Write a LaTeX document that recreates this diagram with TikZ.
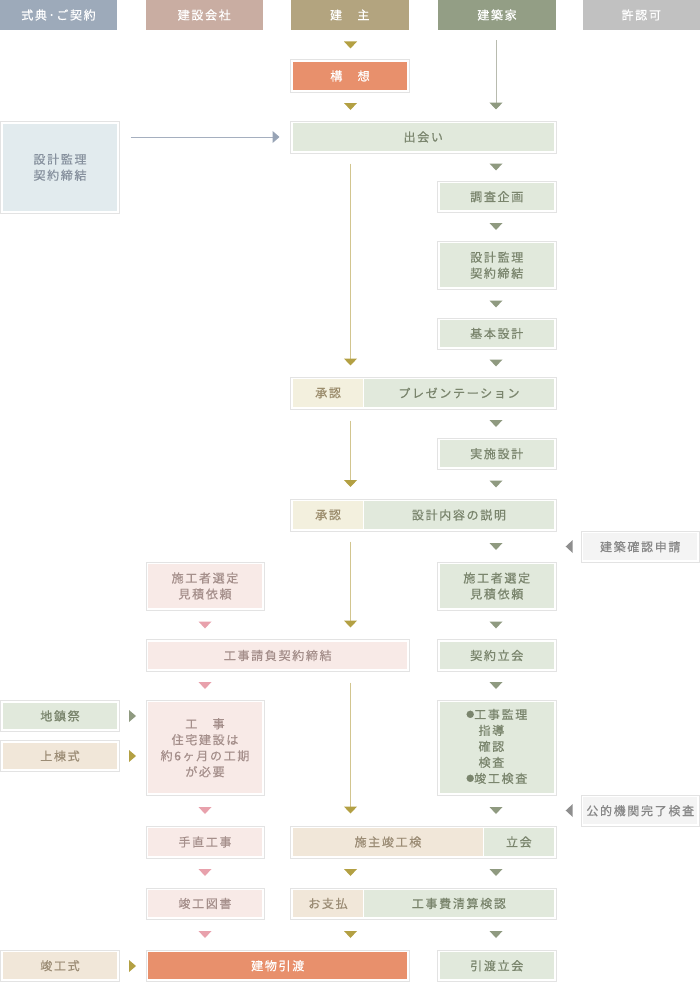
\documentclass[tikz,border=0pt]{standalone}
\usepackage{fontspec}
\setmainfont{Noto Sans CJK JP}
\newfontfamily\jp{Noto Sans CJK JP}[LetterSpace=14,FakeBold=0.6]
\usetikzlibrary{arrows.meta}
\definecolor{bordc}{HTML}{E3E3E3}
\definecolor{hzero}{HTML}{9DAABA}
\definecolor{hone}{HTML}{C9ADA2}
\definecolor{htwo}{HTML}{B3A47F}
\definecolor{hthree}{HTML}{939E85}
\definecolor{hfour}{HTML}{C1C1C1}
\definecolor{orangef}{HTML}{E8906C}
\definecolor{greenf}{HTML}{E1E9DC}
\definecolor{greent}{HTML}{7A856D}
\definecolor{creamf}{HTML}{F3F0DE}
\definecolor{creamt}{HTML}{9B8C6C}
\definecolor{beigef}{HTML}{F1E7D9}
\definecolor{beiget}{HTML}{9B8C75}
\definecolor{pinkf}{HTML}{F8EAE7}
\definecolor{pinkt}{HTML}{A58F8B}
\definecolor{bluef}{HTML}{E2EBEE}
\definecolor{bluet}{HTML}{87919E}
\definecolor{greyf}{HTML}{F4F4F4}
\definecolor{greyt}{HTML}{878787}
\definecolor{olivetri}{HTML}{B3A043}
\definecolor{olivel}{HTML}{D2C58F}
\definecolor{greentri}{HTML}{8F9A80}
\definecolor{greenl}{HTML}{B8BBAF}
\definecolor{pinktri}{HTML}{E8A1AC}
\definecolor{bluetri}{HTML}{97A3B5}
\definecolor{bluel}{HTML}{A5AFBF}
\definecolor{greytri}{HTML}{8E8E8E}
\tikzset{
  jpfont/.style={font=\jp\fontsize{12}{16}\selectfont},
  head/.style={fill=#1, text=white, inner sep=0pt, jpfont},
  box/.style 2 args={draw=bordc, line width=1pt, fill=white, inner sep=0pt, text=#2, align=center, jpfont,
    path picture={\fill[#1] ([shift={(2.3pt,-2.3pt)}]path picture bounding box.north west) rectangle ([shift={(-2.3pt,2.3pt)}]path picture bounding box.south east);}},
  seg/.style 2 args={fill=#1, text=#2, inner sep=0pt, jpfont},
  oline/.style={draw=olivel, line width=1pt, -{Triangle[width=13pt,length=7pt,color=olivetri]}},
  gline/.style={draw=greenl, line width=1pt, -{Triangle[width=13pt,length=7pt,color=greentri]}},
  bline/.style={draw=bluel, line width=1pt, -{Triangle[width=12pt,length=7pt,color=bluetri]}},
}
\newcommand{\flowbox}[8]{\node[box={#6}{#7}, minimum width=#4pt-#2pt, minimum height=#5pt-#3pt] (#1) at ({(#2+#4)/2},{(#3+#5)/2}) {#8};}
\newcommand{\segbox}[8]{\node[seg={#6}{#7}, minimum width=#4pt-#2pt, minimum height=#5pt-#3pt] (#1) at ({(#2+#4)/2},{(#3+#5)/2}) {#8};}
\newcommand{\headbox}[5]{\node[head=#4, minimum width=#3pt-#2pt, minimum height=30pt] (#1) at ({(#2+#3)/2},15) {#5};}
\newcommand{\dtri}[3]{\fill[#3] ({#1-6.5},{#2-3.5}) -- ({#1+6.5},{#2-3.5}) -- (#1,{#2+3.5}) -- cycle;}
\newcommand{\rtri}[3]{\fill[#3] ({#1-3.5},{#2-6}) -- ({#1+3.5},#2) -- ({#1-3.5},{#2+6}) -- cycle;}
\newcommand{\ltri}[3]{\fill[#3] ({#1+3.5},{#2-6.5}) -- ({#1-3.5},#2) -- ({#1+3.5},{#2+6.5}) -- cycle;}
\begin{document}
\begin{tikzpicture}[x=1pt,y=-1pt]
\useasboundingbox (0,0) rectangle (700,982);
% headers
\headbox{h0}{0}{117}{hzero}{式典･ご契約}
\headbox{h1}{145.5}{263}{hone}{建設会社}
\headbox{h2}{291}{408.5}{htwo}{建　主}
\headbox{h3}{438}{556}{hthree}{建築家}
\headbox{h4}{582.5}{700}{hfour}{許認可}
\coordinate (X1) at (205,0);
\coordinate (X2) at (350.5,0);
\coordinate (X3) at (496,0);
% boxes
\flowbox{kousou}{290.5}{60}{409.5}{92}{orangef}{white}{構　想}
\flowbox{deai}{290.5}{121}{556}{153}{greenf}{greent}{出会い}
\flowbox{sekkei0}{0.5}{121.5}{119.5}{213}{bluef}{bluet}{設計監理\\契約締結}
\flowbox{chousa}{437.5}{181}{556}{212.5}{greenf}{greent}{調査企画}
\flowbox{sekkei3}{437.5}{241}{556}{289.5}{greenf}{greent}{設計監理\\契約締結}
\flowbox{kihon}{437.5}{318}{556}{349}{greenf}{greent}{基本設計}
\flowbox{row1}{290.5}{377}{556}{409}{white}{white}{}
\segbox{row1a}{292.8}{379.3}{363.4}{406.7}{creamf}{creamt}{承認}
\segbox{row1b}{364.2}{379.3}{553.7}{406.7}{greenf}{greent}{プレゼンテーション}
\flowbox{jisshi}{437.5}{438}{556}{469.5}{greenf}{greent}{実施設計}
\flowbox{row2}{290.5}{499}{556}{531}{white}{white}{}
\segbox{row2a}{292.8}{501.3}{363.4}{528.7}{creamf}{creamt}{承認}
\segbox{row2b}{364.2}{501.3}{553.7}{528.7}{greenf}{greent}{設計内容の説明}
\flowbox{kakunin}{581}{531}{699.5}{562.5}{greyf}{greyt}{建築確認申請}
\flowbox{sentei1}{146}{562}{264}{610}{pinkf}{pinkt}{施工者選定\\見積依頼}
\flowbox{sentei3}{437.5}{562}{556}{610}{greenf}{greent}{施工者選定\\見積依頼}
\flowbox{ukeoi}{146}{639.5}{409.5}{671.5}{pinkf}{pinkt}{工事請負契約締結}
\flowbox{tachiai}{437.5}{639.5}{556}{671.5}{greenf}{greent}{契約立会}
\flowbox{jichin}{0.5}{700.5}{119.5}{731.5}{greenf}{greent}{地鎮祭}
\flowbox{joto}{0.5}{740.5}{119.5}{771.5}{beigef}{beiget}{上棟式}
\flowbox{kouji}{146}{700}{264}{795.5}{pinkf}{pinkt}{工　事\\住宅建設は\\約6ヶ月の工期\\が必要}
\flowbox{kanri}{437.5}{700}{556}{795.5}{greenf}{greent}{\begin{tabular}{@{}l@{}}\raisebox{1.6pt}{\fontsize{8}{16}\selectfont ●}工事監理\\\hspace{12.3pt}指導\\\hspace{12.3pt}確認\\\hspace{12.3pt}検査\\\raisebox{1.6pt}{\fontsize{8}{16}\selectfont ●}竣工検査\end{tabular}}
\flowbox{kouteki}{581}{795}{699.5}{826.5}{greyf}{greyt}{公的機関完了検査}
\flowbox{tenao}{146}{826}{264}{858}{pinkf}{pinkt}{手直工事}
\flowbox{row3}{290.5}{826}{556}{858}{white}{white}{}
\segbox{row3a}{292.8}{828.3}{483.1}{855.7}{beigef}{beiget}{施主竣工検}
\segbox{row3b}{484}{828.3}{553.7}{855.7}{greenf}{greent}{立会}
\flowbox{zumen}{146}{888}{264}{919}{pinkf}{pinkt}{竣工図書}
\flowbox{row4}{290.5}{888}{556}{919}{white}{white}{}
\segbox{row4a}{292.8}{890.3}{363.1}{916.7}{beigef}{beiget}{お支払}
\segbox{row4b}{364}{890.3}{553.7}{916.7}{greenf}{greent}{工事費清算検認}
\flowbox{shunkoushiki}{0.5}{950}{119.5}{981.5}{beigef}{beiget}{竣工式}
\flowbox{hikiwatashi}{146}{950}{409.5}{981.5}{orangef}{white}{建物引渡}
\flowbox{hwtachiai}{437.5}{950}{556}{981.5}{greenf}{greent}{引渡立会}
% connector lines
\draw[gline] ([yshift=-10pt]h3.south -| X3) -- ([yshift=11pt]deai.north -| X3);
\draw[bline] ([xshift=10.5pt]sekkei0.east |- deai.west) -- ([xshift=-10.5pt]deai.west);
\draw[oline] ([yshift=-10pt]deai.south -| X2) -- ([yshift=11pt]row1.north -| X2);
\draw[oline] ([yshift=-11pt]row1.south -| X2) -- ([yshift=11.5pt]row2.north -| X2);
\draw[oline] ([yshift=-10pt]row2.south -| X2) -- ([yshift=11.5pt]ukeoi.north -| X2);
\draw[oline] ([yshift=-10.5pt]ukeoi.south -| X2) -- ([yshift=12pt]row3.north -| X2);
% standalone arrowheads
\dtri{350.5}{45}{olivetri}
\dtri{350.5}{106.5}{olivetri}
\dtri{350.5}{872.5}{olivetri}
\dtri{350.5}{934.5}{olivetri}
\foreach \yy in {167,226.5,304,363,423.5,484,546.5,625,685.5,810.5,872.5,934.5} {\dtri{496}{\yy}{greentri}}
\foreach \yy in {625,685.5,810.5,872.5,934.5} {\dtri{205}{\yy}{pinktri}}
\rtri{132.5}{716}{greentri}
\rtri{132.5}{756}{olivetri}
\rtri{132.5}{966}{olivetri}
\ltri{569.2}{546.5}{greytri}
\ltri{569.2}{810.5}{greytri}
\end{tikzpicture}
\end{document}
